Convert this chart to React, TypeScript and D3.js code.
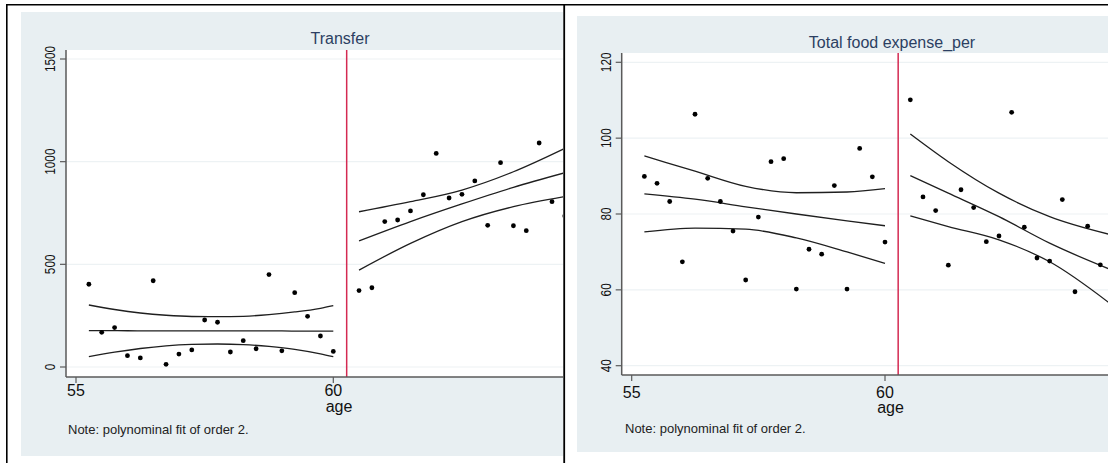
import React from 'react';
import * as d3 from 'd3';

// ages of the binned means (quarter-year bins)
const ageLeft = [55.25, 55.5, 55.75, 56, 56.25, 56.5, 56.75, 57, 57.25, 57.5, 57.75, 58, 58.25, 58.5, 58.75, 59, 59.25, 59.5, 59.75, 60];
const ageRightTransfer = [60.5, 60.75, 61, 61.25, 61.5, 61.75, 62, 62.25, 62.5, 62.75, 63, 63.25, 63.5, 63.75, 64, 64.25, 64.5];
const ageRightFood = [60.5, 60.75, 61, 61.25, 61.5, 61.75, 62, 62.25, 62.5, 62.75, 63, 63.25, 63.5, 63.75, 64, 64.25];

const transferLeft = [403, 169, 192, 55, 44, 420, 13, 63, 83, 229, 218, 73, 128, 89, 450, 79, 362, 247, 151, 76];
const transferRight = [372, 386, 708, 716, 760, 839, 1040, 823, 841, 906, 690, 995, 688, 664, 1091, 805, 735];

const foodLeft = [89.9, 88.1, 83.3, 67.4, 106.3, 89.4, 83.3, 75.5, 62.6, 79.2, 93.8, 94.6, 60.2, 70.7, 69.4, 87.5, 60.2, 97.3, 89.8, 72.6];
const foodRight = [110.1, 84.5, 80.9, 66.5, 86.4, 81.7, 72.7, 74.2, 106.8, 76.5, 68.4, 67.6, 83.8, 59.5, 76.8, 66.6];

// quadratic fit and 95% band
const transferFitAgeL = [55.25, 55.75, 56.25, 56.75, 57.25, 57.75, 58.25, 58.75, 59.25, 59.75, 60];
const transferUpperL = [302, 280, 263, 252, 246, 245, 247, 255, 268, 286, 299];
const transferMeanL = [177, 177, 176, 176, 176, 176, 176, 176, 175, 175, 175];
const transferLowerL = [50, 72, 90, 103, 110, 112, 109, 100, 86, 64, 50];

const transferFitAgeR = [60.5, 61.5, 62.5, 63.5, 64.5];
const transferUpperR = [756, 805, 862, 951, 1065];
const transferMeanR = [614, 708, 794, 875, 946];
const transferLowerR = [472, 602, 708, 781, 830];

const foodFitAgeL = [55.25, 56.25, 57.25, 58.25, 59.25, 60];
const foodUpperL = [95.3, 91.3, 87.3, 85.6, 85.8, 86.7];
const foodMeanL = [85.3, 83.9, 81.9, 80.0, 78.2, 76.9];
const foodLowerL = [75.3, 76.3, 76.0, 73.7, 70.0, 67.0];

const foodFitAgeR = [60.5, 61.25, 62.25, 63.25, 64.5];
const foodUpperR = [101.1, 93.8, 85.5, 79.3, 74.4];
const foodMeanR = [90.1, 85.5, 79.3, 72.3, 65.1];
const foodLowerR = [79.5, 76.7, 73.2, 67.4, 55.8];

const xTicks = [55, 60];
const transferTicks = [0, 500, 1000, 1500];
const foodTicks = [40, 60, 80, 100, 120];
const cutoff = 60.26;
const note = 'Note: polynominal fit of order 2.';

const font = '"Liberation Sans", Arial, Helvetica, sans-serif';

type Fit = { ages: number[]; upper: number[]; mean: number[]; lower: number[] };

type PanelProps = {
  id: string;
  title: string;
  bg: { x: number; y: number; w: number; h: number };
  plot: { x0: number; x1: number; y0: number; y1: number };
  xRange: [number, number];
  yDomain: [number, number];
  yRange: [number, number];
  yTicks: number[];
  yLabelX: number;
  titlePos: [number, number];
  xTickY: number;
  agePos: [number, number];
  notePos: [number, number];
  points: { ages: number[]; values: number[] }[];
  fits: Fit[];
};

function Panel(p: PanelProps) {
  const x = d3.scaleLinear().domain([55, 60]).range(p.xRange);
  const y = d3.scaleLinear().domain(p.yDomain).range(p.yRange);
  const line = (ages: number[], vals: number[]) =>
    d3
      .line<number>()
      .x((_, i) => x(ages[i]))
      .y((d) => y(d))
      .curve(d3.curveMonotoneX)(vals) || '';
  const { x0, x1, y0, y1 } = p.plot;

  return (
    <g fontFamily={font}>
      <rect x={p.bg.x} y={p.bg.y} width={p.bg.w} height={p.bg.h} fill="#e8eff2" />
      <rect x={x0} y={y0} width={x1 - x0} height={y1 - y0} fill="#fff" />
      <clipPath id={p.id}>
        <rect x={x0} y={y0} width={x1 - x0} height={y1 - y0} />
      </clipPath>

      {/* grid */}
      {p.yTicks.map((t) => (
        <line key={'g' + t} x1={x0} x2={x1} y1={y(t)} y2={y(t)} stroke="#edf2f4" strokeWidth={1.2} />
      ))}

      <g clipPath={`url(#${p.id})`}>
        <line x1={x(cutoff)} x2={x(cutoff)} y1={y0} y2={y1} stroke="#d42a52" strokeWidth={1.5} />
        {p.fits.map((f, k) => (
          <g key={'f' + k} fill="none" stroke="#1f1f1f" strokeWidth={1.3}>
            <path d={line(f.ages, f.upper)} />
            <path d={line(f.ages, f.mean)} />
            <path d={line(f.ages, f.lower)} />
          </g>
        ))}
        {p.points.map((s, k) =>
          s.values.map((v, i) => <circle key={k + '-' + i} cx={x(s.ages[i])} cy={y(v)} r={2.4} fill="#000" />)
        )}
      </g>

      {/* axes */}
      <line x1={x0} x2={x0} y1={y0} y2={y1} stroke="#5a5a5a" strokeWidth={1.5} />
      <line x1={x0} x2={x1} y1={y1} y2={y1} stroke="#5a5a5a" strokeWidth={1.5} />
      {p.yTicks.map((t) => (
        <g key={'y' + t}>
          <line x1={x0 - 6} x2={x0} y1={y(t)} y2={y(t)} stroke="#5a5a5a" strokeWidth={1.2} />
          <text
            transform={`translate(${p.yLabelX},${y(t)}) scale(1.25,1) rotate(-90)`}
            textAnchor="middle"
            fontSize={11.8}
            fill="#111"
          >
            {t}
          </text>
        </g>
      ))}
      {xTicks.map((t) => (
        <g key={'x' + t}>
          <line x1={x(t)} x2={x(t)} y1={y1} y2={y1 + 6} stroke="#5a5a5a" strokeWidth={1.2} />
          <text x={x(t)} y={p.xTickY} textAnchor="middle" fontSize={16} fill="#111">
            {t}
          </text>
        </g>
      ))}
      <text x={p.agePos[0]} y={p.agePos[1]} textAnchor="middle" fontSize={16} fill="#111">
        age
      </text>
      <text x={p.titlePos[0]} y={p.titlePos[1]} textAnchor="middle" fontSize={16} fill="#2c3f62">
        {p.title}
      </text>
      <text x={p.notePos[0]} y={p.notePos[1]} fontSize={13} fill="#222">
        {note}
      </text>
    </g>
  );
}

export default function App() {
  return (
    <svg width={1108} height={463} style={{ position: 'absolute', left: 0, top: 0, background: '#fff' }}>
      <Panel
        id="clipTransfer"
        title="Transfer"
        bg={{ x: 21, y: 12, w: 542, h: 444 }}
        plot={{ x0: 66, x1: 563, y0: 50, y1: 377 }}
        xRange={[76, 333.3]}
        yDomain={[0, 1500]}
        yRange={[367, 59]}
        yTicks={transferTicks}
        yLabelX={55}
        titlePos={[340, 44]}
        xTickY={396}
        agePos={[339, 412]}
        notePos={[68, 434]}
        points={[
          { ages: ageLeft, values: transferLeft },
          { ages: ageRightTransfer, values: transferRight },
        ]}
        fits={[
          { ages: transferFitAgeL, upper: transferUpperL, mean: transferMeanL, lower: transferLowerL },
          { ages: transferFitAgeR, upper: transferUpperR, mean: transferMeanR, lower: transferLowerR },
        ]}
      />
      <Panel
        id="clipFood"
        title="Total food expense_per"
        bg={{ x: 577, y: 16, w: 531, h: 436 }}
        plot={{ x0: 621.7, x1: 1108, y0: 53, y1: 375 }}
        xRange={[631.7, 885]}
        yDomain={[40, 120]}
        yRange={[365.7, 62.3]}
        yTicks={foodTicks}
        yLabelX={611}
        titlePos={[892, 48]}
        xTickY={398}
        agePos={[890.5, 413]}
        notePos={[625, 433]}
        points={[
          { ages: ageLeft, values: foodLeft },
          { ages: ageRightFood, values: foodRight },
        ]}
        fits={[
          { ages: foodFitAgeL, upper: foodUpperL, mean: foodMeanL, lower: foodLowerL },
          { ages: foodFitAgeR, upper: foodUpperR, mean: foodMeanR, lower: foodLowerR },
        ]}
      />
      {/* table cell borders */}
      <line x1={6} x2={1108} y1={4.7} y2={4.7} stroke="#000" strokeWidth={1.6} />
      <line x1={6.8} x2={6.8} y1={4} y2={463} stroke="#000" strokeWidth={1.6} />
      <line x1={564.2} x2={564.2} y1={4} y2={463} stroke="#000" strokeWidth={1.8} />
    </svg>
  );
}
